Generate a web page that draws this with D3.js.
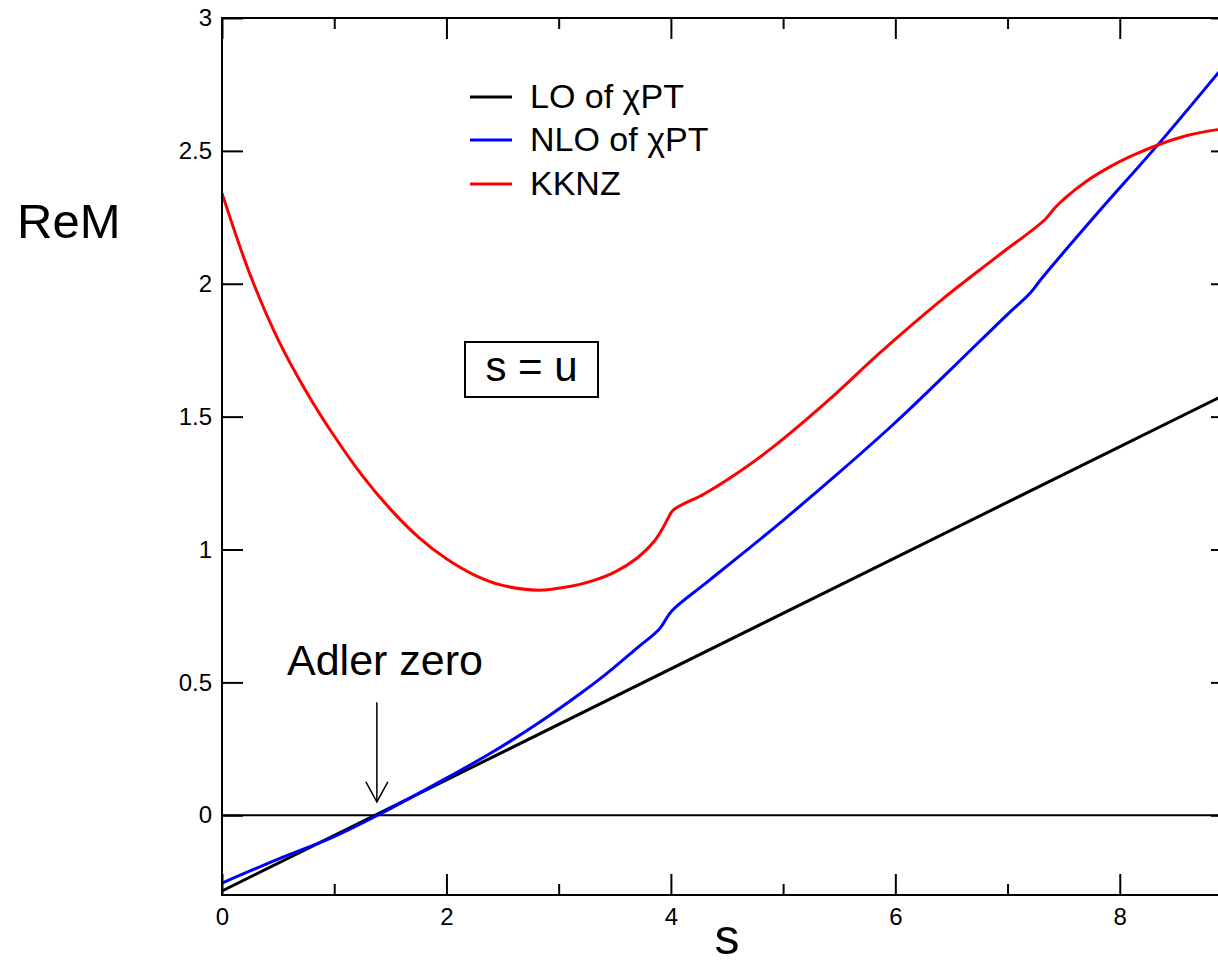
<!DOCTYPE html>
<html>
<head>
<meta charset="utf-8">
<script src="https://cdn.jsdelivr.net/npm/d3@7"></script>
<style>
  body { margin: 0; background: #fff; }
  svg { display: block; font-family: "Liberation Sans", Arial, sans-serif; }
</style>
</head>
<body>
<div id="chart"></div>
<script>
// values
const loS = [0, 9];
const loM = [-0.285, 1.596];

const nloS = [0, 0.5, 1.0, 1.4, 2.0, 2.4, 2.833, 3.2, 3.427, 3.7, 3.9, 4.006, 4.3, 4.61, 5.0, 5.5, 6.0, 6.5, 7.0, 7.198, 7.302, 7.8, 8.356, 8.873, 9.0];
const nloM = [-0.255, -0.165, -0.08, 0.003, 0.14, 0.235, 0.351, 0.46, 0.533, 0.63, 0.702, 0.768, 0.87, 0.975, 1.11, 1.29, 1.478, 1.68, 1.885, 1.963, 2.019, 2.265, 2.531, 2.791, 2.855];

const kknzS = [0, 0.25, 0.5, 0.75, 1.0, 1.25, 1.5, 1.75, 2.0, 2.25, 2.5, 2.82, 3.1, 3.3, 3.5, 3.7, 3.85, 3.932, 3.975, 4.021, 4.3, 4.6, 4.912, 5.4, 5.862, 6.426, 6.9, 7.332, 7.42, 7.525, 7.7, 7.911, 8.1, 8.356, 8.6, 8.873, 9.0];
const kknzM = [2.341, 2.035, 1.79, 1.595, 1.427, 1.278, 1.152, 1.047, 0.965, 0.904, 0.865, 0.847, 0.861, 0.882, 0.915, 0.968, 1.03, 1.084, 1.118, 1.148, 1.21, 1.29, 1.386, 1.56, 1.74, 1.944, 2.10, 2.241, 2.285, 2.327, 2.385, 2.44, 2.48, 2.525, 2.558, 2.58, 2.585];

const series = [
  {name: "LO of χPT", color: "#000000", s: loS, m: loM},
  {name: "NLO of χPT", color: "#0000ff", s: nloS, m: nloM},
  {name: "KKNZ", color: "#ff0000", s: kknzS, m: kknzM}
];

const xMajor = [0, 2, 4, 6, 8];
const xMinor = [1, 3, 5, 7, 9];
const yMajor = [0, 0.5, 1, 1.5, 2, 2.5, 3];

const adlerS = 1.38;

const width = 1218, height = 966;
const margin = {top: 18, left: 222};
const plotW = 1010, plotH = 877;

const svg = d3.select("#chart").append("svg")
    .attr("width", width)
    .attr("height", height);

const x = d3.scaleLinear().domain([0, 9]).range([margin.left, margin.left + plotW]);
const y = d3.scaleLinear().domain([-0.3, 3]).range([margin.top + plotH, margin.top]);

// zero line
svg.append("line")
    .attr("x1", x(0)).attr("x2", x(9))
    .attr("y1", y(0)).attr("y2", y(0))
    .attr("stroke", "#000").attr("stroke-width", 2);

// curves
const line = d3.line()
    .x(d => x(d[0]))
    .y(d => y(d[1]))
    .curve(d3.curveCatmullRom.alpha(0.5));

series.forEach(sr => {
    svg.append("path")
        .datum(sr.s.map((v, i) => [v, sr.m[i]]))
        .attr("d", line)
        .attr("fill", "none")
        .attr("stroke", sr.color)
        .attr("stroke-width", 3);
});

// axes (ticks point inward on all four sides)
function styleAxis(g) {
    g.select(".domain").remove();
    g.selectAll(".tick line").attr("stroke", "#000").attr("stroke-width", 2);
    g.selectAll(".tick text").attr("fill", "#000").style("font-size", "24px");
}

svg.append("g")
    .attr("transform", `translate(0,${y(-0.3)})`)
    .call(d3.axisBottom(x).tickValues(xMajor).tickSize(-21).tickPadding(13).tickFormat(d3.format("d")))
    .call(styleAxis);
svg.append("g")
    .attr("transform", `translate(0,${y(-0.3)})`)
    .call(d3.axisBottom(x).tickValues(xMinor).tickSize(-11).tickFormat(""))
    .call(styleAxis);
svg.append("g")
    .attr("transform", `translate(0,${y(3)})`)
    .call(d3.axisTop(x).tickValues(xMajor).tickSize(-21).tickFormat(""))
    .call(styleAxis);
svg.append("g")
    .attr("transform", `translate(0,${y(3)})`)
    .call(d3.axisTop(x).tickValues(xMinor).tickSize(-11).tickFormat(""))
    .call(styleAxis);

svg.append("g")
    .attr("transform", `translate(${x(0)},0)`)
    .call(d3.axisLeft(y).tickValues(yMajor).tickSize(-21).tickPadding(10).tickFormat(d => String(d)))
    .call(styleAxis);
svg.append("g")
    .attr("transform", `translate(${x(9)},0)`)
    .call(d3.axisRight(y).tickValues(yMajor).tickSize(-21).tickFormat(""))
    .call(styleAxis);

// frame
svg.append("rect")
    .attr("x", x(0)).attr("y", y(3))
    .attr("width", x(9) - x(0)).attr("height", y(-0.3) - y(3))
    .attr("fill", "none").attr("stroke", "#000").attr("stroke-width", 2);

// axis titles
svg.append("text")
    .attr("x", 17).attr("y", 238)
    .style("font-size", "49px")
    .text("ReM");

svg.append("text")
    .attr("x", x(4.5)).attr("y", 954)
    .attr("text-anchor", "middle")
    .style("font-size", "50px")
    .text("s");

// legend
const legendY = [97, 140, 184];
const legend = svg.append("g");
series.forEach((sr, i) => {
    legend.append("line")
        .attr("x1", 470).attr("x2", 512)
        .attr("y1", legendY[i]).attr("y2", legendY[i])
        .attr("stroke", sr.color).attr("stroke-width", 3);
    legend.append("text")
        .attr("x", 530).attr("y", legendY[i] + 11)
        .style("font-size", "34px")
        .text(sr.name);
});

// s = u box
svg.append("rect")
    .attr("x", 465).attr("y", 342)
    .attr("width", 133).attr("height", 55)
    .attr("fill", "none").attr("stroke", "#000").attr("stroke-width", 2);
svg.append("text")
    .attr("x", 531.5).attr("y", 381)
    .attr("text-anchor", "middle")
    .style("font-size", "42px")
    .text("s = u");

// Adler zero annotation
svg.append("text")
    .attr("x", 287).attr("y", 675)
    .style("font-size", "43px")
    .text("Adler zero");

const ax = x(adlerS);
svg.append("line")
    .attr("x1", ax).attr("x2", ax)
    .attr("y1", y(0.425)).attr("y2", y(0.05))
    .attr("stroke", "#000").attr("stroke-width", 1.5);
svg.append("path")
    .attr("d", `M${ax - 11},${y(0.05) - 20}L${ax},${y(0.05)}L${ax + 11},${y(0.05) - 20}`)
    .attr("fill", "none").attr("stroke", "#000").attr("stroke-width", 1.5);
</script>
</body>
</html>
